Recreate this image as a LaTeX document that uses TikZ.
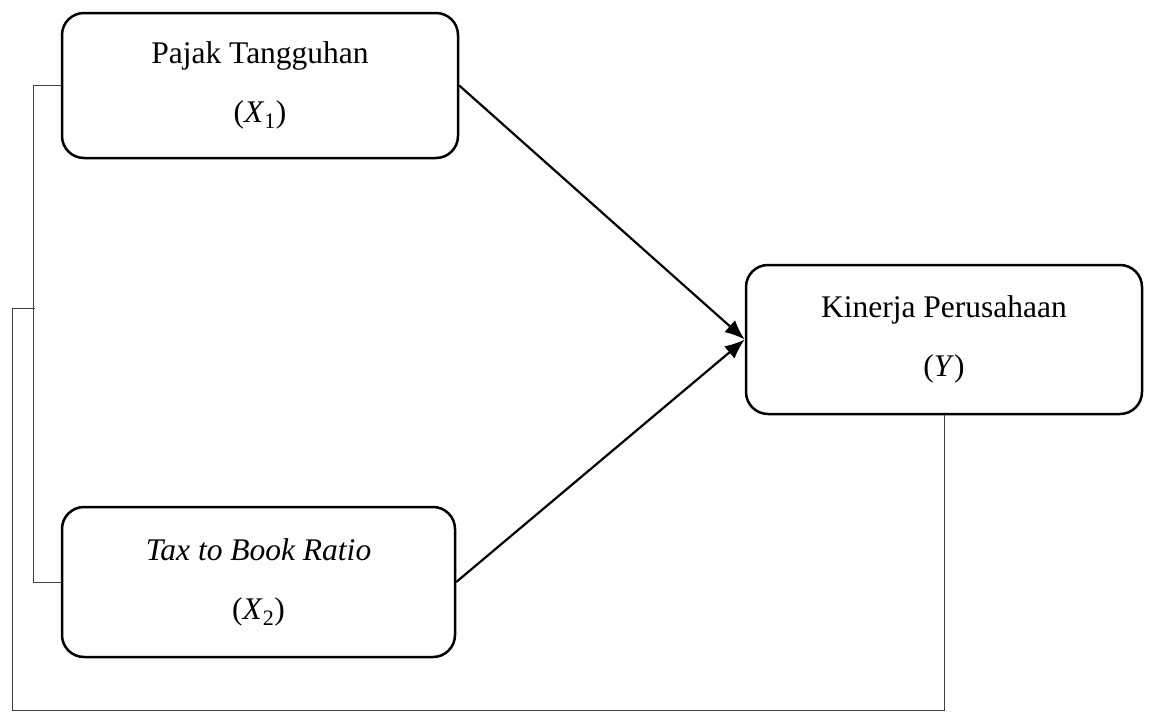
\documentclass[tikz,border=0pt]{standalone}
\usepackage{fontspec}
\setmainfont{Liberation Serif}
\usetikzlibrary{arrows.meta}
\begin{document}
\begin{tikzpicture}[x=1pt,y=-1pt,
  box/.style={draw, line width=2.5pt, rounded corners=22pt, align=center,
    font=\fontsize{31.5}{59}\selectfont, inner sep=0pt},
  link/.style={line width=1pt, draw=black!75},
  arr/.style={line width=2.2pt, -{Latex[length=20pt,width=16pt]}}]
\useasboundingbox (0,0) rectangle (1152,720);
\node[box, minimum width=396pt, minimum height=145pt] (x1) at (260,85.5)
  {Pajak Tangguhan\\(\textit{X}\textsubscript{1})};
\node[box, minimum width=393pt, minimum height=150pt] (x2) at (258.5,582)
  {\textit{Tax to Book Ratio}\\(\textit{X}\textsubscript{2})};
\node[box, minimum width=396pt, minimum height=149pt] (y) at (944,339.5)
  {Kinerja Perusahaan\\(\textit{Y})};
\draw[arr] (x1.east) -- (y.west);
\draw[arr] (x2.east) -- (y.west);
\coordinate (mid) at (35,308);
\draw[link] (x1.west) -- ++(-27,0) |- (x2.west);
\draw[link] (mid) -| (12,710) -| (y.south);
\end{tikzpicture}
\end{document}
